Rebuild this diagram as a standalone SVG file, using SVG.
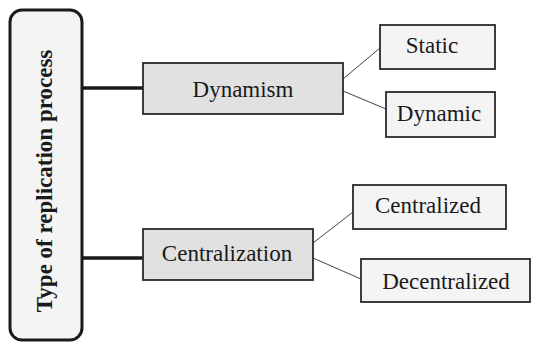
<svg xmlns="http://www.w3.org/2000/svg" width="535" height="342" viewBox="0 0 535 342">
  <style>
    .caption { font-family: 'Liberation Serif', serif; font-size: 23px; text-anchor: middle; fill: #1a1a1a; }
    .title { font-family: 'Liberation Serif', serif; font-size: 23px; font-weight: bold; text-anchor: middle; fill: #1a1a1a; }
    .parent { fill: #e1e1e1; stroke: #2a2a2a; stroke-width: 1.8; }
    .child { fill: #f4f4f4; stroke: #2a2a2a; stroke-width: 1.8; }
    .trunk { stroke: #1a1a1a; stroke-width: 3.5; fill: none; }
    .branch { stroke: #444; stroke-width: 1; fill: none; }
  </style>
  <rect width="535" height="342" fill="#ffffff"/>

  <!-- trunk lines from the root, thin branches to the leaves -->
  <g id="connectors">
    <line class="trunk" x1="82" y1="88" x2="143" y2="88"/>
    <line class="trunk" x1="82" y1="258" x2="143" y2="258"/>
    <line class="branch" x1="343" y1="79" x2="380" y2="48"/>
    <line class="branch" x1="343" y1="91" x2="386" y2="109"/>
    <line class="branch" x1="313" y1="243" x2="353" y2="212"/>
    <line class="branch" x1="313" y1="258" x2="361" y2="279"/>
  </g>

  <g id="root">
    <rect x="10" y="10" width="72" height="330" rx="12" ry="12" fill="#f4f4f4" stroke="#1a1a1a" stroke-width="3"/>
    <text class="title" transform="translate(52,181) rotate(-90)">Type of replication process</text>
  </g>

  <g id="dynamism">
    <rect class="parent" x="143" y="63" width="200" height="51"/>
    <text class="caption" x="243" y="97">Dynamism</text>
  </g>

  <g id="static">
    <rect class="child" x="380" y="25" width="115" height="44"/>
    <text class="caption" x="432" y="53">Static</text>
  </g>

  <g id="dynamic">
    <rect class="child" x="386" y="92" width="109" height="45"/>
    <text class="caption" x="439" y="121">Dynamic</text>
  </g>

  <g id="centralization">
    <rect class="parent" x="143" y="229" width="170" height="51"/>
    <text class="caption" x="227" y="261">Centralization</text>
  </g>

  <g id="centralized">
    <rect class="child" x="353" y="185" width="153" height="44"/>
    <text class="caption" x="428" y="213">Centralized</text>
  </g>

  <g id="decentralized">
    <rect class="child" x="361" y="259" width="169" height="43"/>
    <text class="caption" x="446" y="289">Decentralized</text>
  </g>
</svg>
